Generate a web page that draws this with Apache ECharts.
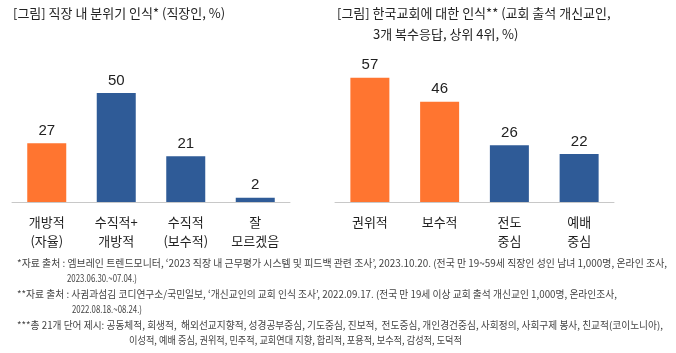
<!DOCTYPE html>
<html><head><meta charset="utf-8">
<script src="https://cdn.jsdelivr.net/npm/echarts@6/dist/echarts.min.js"></script>
<style>html,body{margin:0;padding:0;background:#fff}#c{width:676px;height:353px}</style>
</head><body><div id="c"></div>
<script>
const leftCategories = ['개방적\n(자율)', '수직적+\n개방적', '수직적\n(보수적)', '잘\n모르겠음'];
const leftValues = [27, 50, 21, 2];
const leftColors = ['#FF7530', '#2F5B97', '#2F5B97', '#2F5B97'];
const rightCategories = ['권위적', '보수적', '전도\n중심', '예배\n중심'];
const rightValues = [57, 46, 26, 22];
const rightColors = ['#FF7530', '#FF7530', '#2F5B97', '#2F5B97'];
const leftTitle = '[그림] 직장 내 분위기 인식* (직장인, %)';
const rightTitle1 = '[그림] 한국교회에 대한 인식** (교회 출석 개신교인,';
const rightTitle2 = '3개 복수응답, 상위 4위, %)';
const notes = [
  '*자료 출처 : 엠브레인 트렌드모니터, ‘2023 직장 내 근무평가 시스템 및 피드백 관련 조사’, 2023.10.20. (전국 만 19~59세 직장인 성인 남녀 1,000명, 온라인 조사,',
  '2023.06.30.~07.04.)',
  '**자료 출처 : 사귐과섬김 코디연구소/국민일보, ‘개신교인의 교회 인식 조사’, 2022.09.17. (전국 만 19세 이상 교회 출석 개신교인 1,000명, 온라인조사,',
  '2022.08.18.~08.24.)',
  '***총 21개 단어 제시: 공동체적, 희생적,  해외선교지향적, 성경공부중심, 기도중심, 진보적,  전도중심, 개인경건중심, 사회정의, 사회구제 봉사, 친교적(코이노니아),',
  '이성적, 예배 중심, 권위적, 민주적, 교회연대 지향, 합리적, 포용적, 보수적, 감성적, 도덕적'
];
// layout: [left x, right x] of each note line
const noteSpans = [[17, 667], [67, 137], [17, 617], [72, 142], [17, 663], [129, 462]];

const FONT = '"Noto Sans CJK KR", "Noto Sans", sans-serif';
const NOTE_FONT = '10px ' + FONT;
const chart = echarts.init(document.getElementById('c'), null, {renderer: 'canvas'});

function mkX(idx, cats) {
  return {
    type: 'category', gridIndex: idx, data: cats,
    axisLine: {lineStyle: {color: '#c8c8c8', width: 1}},
    axisTick: {show: false},
    axisLabel: {color: '#222', fontSize: 13, fontFamily: FONT, lineHeight: 19, margin: 11, interval: 0}
  };
}
function mkY(idx) {
  return {type: 'value', gridIndex: idx, min: 0, max: 60, show: false, splitLine: {show: false}};
}
function mkS(idx, vals, colors) {
  return {
    type: 'bar', xAxisIndex: idx, yAxisIndex: idx, barWidth: 39,
    data: vals.map((v, i) => ({value: v, itemStyle: {color: colors[i]}})),
    label: {show: true, position: 'top', distance: 5, color: '#222', fontSize: 15, fontFamily: '"Liberation Sans", Arial, sans-serif'}
  };
}

const ctx = document.createElement('canvas').getContext('2d');
ctx.font = NOTE_FONT;

const graphics = [
  {type: 'text', left: 13, top: 7, style: {text: leftTitle, font: '13px ' + FONT, fill: '#222'}},
  {type: 'text', left: 337, top: 7, style: {text: rightTitle1, font: '13px ' + FONT, fill: '#222'}},
  {type: 'text', left: 373, top: 28, style: {text: rightTitle2, font: '13px ' + FONT, fill: '#222'}}
];
notes.forEach((t, i) => {
  const w = ctx.measureText(t).width;
  const span = noteSpans[i];
  graphics.push({type: 'text', x: span[0], y: 258 + i * 15.5, scaleX: (span[1] - span[0]) / w,
    style: {text: t, font: NOTE_FONT, fill: '#444', verticalAlign: 'top'}});
});

chart.setOption({
  animation: false,
  grid: [
    {left: 12, width: 278, top: 71.2, height: 130.8},
    {left: 335, width: 279, top: 71.2, height: 130.8}
  ],
  xAxis: [mkX(0, leftCategories), mkX(1, rightCategories)],
  yAxis: [mkY(0), mkY(1)],
  series: [mkS(0, leftValues, leftColors), mkS(1, rightValues, rightColors)],
  graphic: graphics
});
</script></body></html>
